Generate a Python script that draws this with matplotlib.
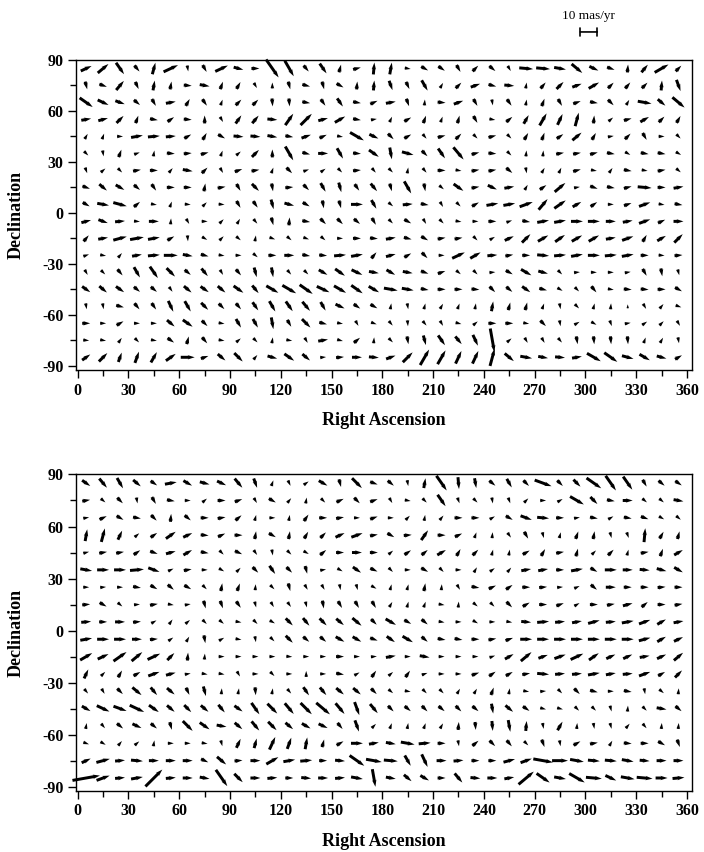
import numpy as np
import matplotlib
matplotlib.use("Agg")
import matplotlib.pyplot as plt

plt.rcParams['font.family'] = ['Liberation Serif', 'DejaVu Serif']
plt.rcParams['axes.unicode_minus'] = False

# grid centres (deg)
ra_centres = [5, 15, 25, 35, 45, 55, 65, 75, 85, 95, 105, 115, 125, 135, 145, 155, 165, 175,
              185, 195, 205, 215, 225, 235, 245, 255, 265, 275, 285, 295, 305, 315, 325, 335, 345, 355]
dec_centres = [85, 75, 65, 55, 45, 35, 25, 15, 5, -5, -15, -25, -35, -45, -55, -65, -75, -85]

# position angle on the page (deg, ccw from +RA) and size (mas/yr), rows from dec 85 down
top_angle = [
    [25, 40, -55, -50, 75, 25, -80, -60, 25, -15, 0, -55, -60, -50, -55, 75, 15, 85,
     80, -10, -30, -35, -60, 45, -40, -60, -5, -5, -10, -40, -25, -20, 85, 50, 30, 45],
    [-75, -20, 50, -65, 80, 80, -5, -10, 70, 60, -60, 90, -75, -15, -75, -30, 85, 85,
     -70, -65, -60, 60, 45, 20, -15, -5, 80, 50, 45, 20, 30, 45, 50, 45, 85, -70],
    [-35, -25, -20, -40, -60, 10, 60, -55, 70, 45, 45, -85, -85, -10, -55, -55, -10, 25,
     10, -70, 85, -5, 20, -60, -80, -55, 80, 70, -60, 20, -10, -45, 60, -10, -40, -40],
    [10, 15, 45, 70, -10, 35, -5, 90, -60, 55, 50, -5, 55, 45, 15, 30, -10, 10,
     65, 30, 70, 70, 75, -60, -10, 40, 60, 60, 65, 75, 85, 40, 15, 30, 45, 60],
    [60, 70, 0, 10, 5, 5, 30, 60, -30, -5, -5, -10, -10, 20, 25, -10, -30, -25,
     -45, 30, -50, 15, 45, -45, 15, -45, 60, 70, 35, 40, 60, 10, 45, -60, 0, -45],
    [-45, -80, 70, 20, 80, -5, 5, 15, 70, 40, 45, 90, -60, -15, 0, -60, -5, -35,
     -80, -15, -45, -55, -50, 15, -5, -45, 85, 85, 10, 10, 15, -10, -30, -10, -10, -30],
    [-70, 40, -45, 10, 0, 50, -10, 45, -60, 20, 10, 70, -45, 20, 35, -45, 5, -50,
     -45, 80, -50, 0, -10, 10, 10, -40, -80, 60, 65, 15, -10, 55, -10, -10, 10, -40],
    [-20, -40, -30, -40, -55, 0, 0, 80, 10, -60, -45, -80, 5, -45, -60, -75, -55, -50,
     -75, -60, -80, -40, -35, 10, -25, 10, 60, 35, 40, 10, -20, -10, 15, -5, 0, 10],
    [-30, -10, -15, 40, -10, 70, -5, 45, -5, -60, -55, -75, -15, -30, -80, -75, 0, -60,
     -40, 5, -10, -60, -45, 30, 10, 10, 20, 50, 35, 30, 35, 0, 20, 20, -10, -10],
    [15, -20, 5, -5, 0, 85, -60, 0, 45, 60, -50, -75, 85, -10, -45, -45, -40, -60,
     -45, -30, -60, -45, -10, 0, 0, 20, -10, 10, 10, 0, 0, 0, 10, 20, 25, 0],
    [50, 10, 15, 10, 10, 30, -85, -30, 45, -40, 80, -20, -40, -20, -40, 0, 0, -5,
     10, -15, -30, 10, 10, -45, 30, 25, 45, 30, 35, 30, 30, 10, 20, 60, 30, 45],
    [20, -10, 50, 10, 5, 0, -10, -15, -10, 0, -40, 0, 0, -10, -5, 5, 10, 50,
     15, 30, -45, 0, 25, 30, 5, 10, 0, -5, 5, 10, 0, 5, 10, 0, -5, 5],
    [-60, -45, -50, -60, -55, -45, -40, -50, -60, -50, -75, -80, -50, -45, -30, -35, -25, -10,
     -30, -10, -20, 20, -40, -45, 5, -30, -30, -15, -45, 5, 0, 0, 10, -60, -80, -75],
    [-35, -40, -35, -40, -40, -55, -40, -35, -40, -35, -50, -30, -30, -35, -25, -30, -35, -30,
     -10, -10, -10, 0, 0, -5, -45, -40, -35, -15, -30, -45, -50, -10, -5, -5, 0, -30],
    [-80, -80, -15, -50, -55, -65, -60, -45, -45, -50, -55, -60, -55, -50, -60, -25, -35, -30,
     80, -80, 75, 60, 70, 80, 80, 75, 75, 70, -80, -45, 75, 85, 90, -60, 50, -20],
    [0, 0, 30, 0, 0, -40, -35, -45, -10, -60, -60, -80, -60, -45, -15, -10, -60, -20,
     -50, -85, -50, -60, -15, 40, 0, 0, -10, -45, -80, 30, -30, -70, 10, 35, 45, -60],
    [-5, -10, 55, -45, -10, -35, 75, -50, -10, 40, -45, 80, -10, -60, 10, -15, 40, 85,
     -45, -80, -75, -55, -50, -65, -80, 40, -60, -60, -50, -80, -85, -85, -85, 70, 60, -80],
    [35, 45, 70, 70, 60, 35, 0, 20, -40, -45, 50, -15, -35, -40, 5, 5, 0, -5,
     20, 45, 60, 60, 65, 65, 75, -40, -10, -10, -5, 10, -30, -35, -15, -30, -15, 30],
]
top_length = [
    [6, 7, 7, 4, 6, 8, 3, 4, 7, 5, 4, 11, 9, 4, 6, 4, 4, 6, 6, 3, 4, 4, 4, 4, 4, 3, 7, 7, 6, 7, 5, 4, 4, 5, 8, 4],
    [4, 4, 6, 4, 5, 4, 4, 5, 4, 4, 3, 3, 4, 4, 4, 4, 4, 5, 5, 4, 6, 3, 4, 5, 4, 5, 3, 4, 5, 5, 6, 4, 4, 4, 5, 6],
    [8, 6, 5, 4, 4, 5, 4, 4, 3, 4, 4, 4, 4, 4, 4, 5, 4, 4, 5, 4, 3, 4, 5, 4, 3, 4, 3, 4, 4, 4, 4, 4, 3, 7, 5, 8],
    [5, 5, 5, 4, 4, 4, 4, 4, 3, 5, 5, 5, 7, 8, 5, 6, 4, 3, 3, 4, 4, 3, 4, 4, 3, 4, 5, 7, 6, 7, 4, 3, 4, 5, 4, 4],
    [3, 3, 3, 6, 6, 5, 4, 4, 4, 5, 5, 5, 4, 5, 4, 3, 8, 5, 4, 4, 3, 4, 4, 3, 4, 3, 4, 4, 4, 6, 4, 3, 4, 4, 3, 3],
    [3, 3, 4, 3, 3, 4, 4, 4, 3, 3, 5, 4, 8, 4, 5, 6, 4, 6, 6, 6, 4, 6, 8, 4, 4, 3, 3, 3, 4, 4, 4, 4, 3, 4, 4, 3],
    [3, 3, 3, 4, 4, 3, 5, 4, 3, 4, 4, 3, 4, 3, 3, 3, 4, 3, 3, 3, 3, 4, 3, 4, 4, 4, 3, 3, 3, 4, 3, 3, 4, 3, 4, 3],
    [4, 5, 5, 4, 4, 4, 4, 4, 4, 4, 5, 4, 4, 4, 5, 5, 4, 5, 4, 7, 4, 3, 6, 4, 5, 5, 3, 4, 7, 3, 4, 4, 4, 7, 4, 5],
    [4, 6, 7, 4, 3, 3, 3, 3, 3, 4, 4, 5, 5, 4, 4, 4, 6, 5, 3, 5, 4, 3, 3, 4, 6, 6, 7, 7, 7, 5, 4, 3, 4, 6, 3, 4],
    [5, 5, 5, 3, 5, 3, 3, 3, 3, 3, 3, 4, 4, 4, 4, 4, 4, 4, 3, 4, 3, 3, 3, 3, 4, 3, 4, 6, 6, 6, 6, 5, 5, 6, 4, 5],
    [4, 5, 7, 7, 6, 4, 3, 3, 3, 3, 3, 3, 3, 3, 3, 3, 4, 4, 5, 4, 4, 4, 4, 3, 3, 5, 6, 6, 6, 6, 6, 5, 6, 4, 5, 6],
    [3, 3, 3, 5, 6, 7, 5, 4, 3, 3, 3, 4, 5, 4, 4, 6, 6, 4, 5, 4, 4, 3, 7, 6, 5, 4, 4, 6, 6, 6, 6, 6, 6, 4, 3, 4],
    [3, 3, 4, 6, 7, 6, 4, 5, 3, 4, 5, 5, 3, 3, 5, 6, 6, 5, 5, 5, 4, 4, 3, 3, 3, 4, 6, 5, 3, 3, 3, 3, 3, 4, 4, 3],
    [5, 5, 5, 4, 4, 3, 5, 5, 5, 6, 5, 7, 8, 8, 7, 7, 7, 6, 7, 6, 4, 4, 4, 4, 4, 4, 5, 4, 3, 3, 4, 3, 4, 4, 4, 4],
    [3, 3, 4, 4, 4, 6, 6, 5, 4, 4, 5, 6, 6, 6, 5, 5, 4, 4, 3, 3, 3, 3, 3, 3, 5, 4, 4, 3, 3, 3, 3, 3, 2, 3, 3, 3],
    [4, 3, 4, 3, 3, 5, 6, 4, 3, 5, 5, 6, 4, 6, 4, 3, 3, 3, 3, 3, 3, 3, 3, 3, 4, 4, 3, 4, 3, 3, 3, 3, 3, 3, 3, 3],
    [3, 3, 3, 3, 3, 4, 4, 4, 3, 3, 3, 3, 3, 3, 5, 3, 4, 3, 3, 4, 5, 6, 5, 6, 12, 3, 3, 3, 3, 4, 4, 4, 4, 3, 3, 3],
    [5, 6, 5, 6, 6, 6, 7, 4, 5, 6, 3, 5, 6, 5, 3, 4, 5, 5, 5, 7, 9, 8, 7, 7, 9, 6, 6, 5, 5, 5, 8, 8, 6, 6, 5, 4],
]

bottom_angle = [
    [-35, -50, -60, -40, -35, 10, -30, -15, -25, -50, -70, 70, -65, 35, -30, -75, -45, -20,
     -40, -80, 80, -55, -85, -80, -40, -60, -45, -20, -45, -45, -35, -55, -55, -60, -40, -35],
    [10, -40, -45, -80, -60, -10, 0, 40, 0, 20, -60, -30, 50, 80, -45, 25, -45, 20,
     -60, -10, -45, -55, -70, -45, -80, -70, 45, 0, 30, -30, -45, -10, 0, -40, -40, -10],
    [10, 25, -30, -10, -45, 85, -40, 0, 10, 40, 75, 0, 80, 55, 0, 10, 0, 20,
     0, 45, 80, 50, 0, 0, 30, -30, -20, -5, 0, 10, -10, 30, -10, -20, -30, -40],
    [80, 75, 65, 40, 35, 35, 25, -5, 25, 0, 80, -30, 80, 60, 45, 25, 20, 10,
     -30, 5, 55, 0, 25, 70, 85, -55, -60, -75, 75, 70, 80, -75, -70, 85, 60, 75],
    [15, 10, 10, 35, -20, 15, 30, -10, -45, -25, -55, -80, -45, -30, 40, 0, 0, 0,
     40, 35, 40, 30, 60, 45, 75, 80, 30, 60, 10, 75, 45, 45, 75, 10, 70, 30],
    [-10, 0, 0, 5, -20, 25, 10, 0, -30, 45, -45, -55, -45, -75, 10, -30, -35, -25,
     -45, 0, -30, -45, 0, 60, 35, 50, 10, 10, 0, 10, -30, 0, 0, -5, -15, -30],
    [0, 5, 0, -10, -30, -40, -30, -45, 80, 70, 85, -45, -75, -60, -60, -80, -75, -30,
     75, 75, 80, 85, -60, -10, 25, 35, 0, 5, 5, 25, -40, 0, 0, 0, 5, 0],
    [5, -30, -40, 5, 10, -10, 10, -75, -70, -55, -75, -60, -55, -75, -80, -60, -60, -60,
     60, 75, 70, -10, 85, -40, -45, -45, 30, 0, 20, 30, 0, 10, 15, 40, 0, 10],
    [5, 0, 0, 5, 30, 55, 40, -45, -40, -10, -45, -30, -45, -50, -45, -40, -40, -45,
     -30, -30, -40, -10, 0, -30, 0, -10, -5, 5, 5, 10, 15, 5, 10, 20, 30, 10],
    [10, 0, 0, 0, 5, 35, 60, -80, 30, -10, -80, -45, -45, -40, -40, -30, -30, -20,
     -35, -30, -40, -10, -10, 0, 10, 20, 0, 0, 0, 0, 0, 0, 0, 15, 30, 25],
    [30, 25, 35, 40, 25, 45, 85, 85, 0, 0, 0, 0, -5, 0, 0, 0, 0, 5,
     10, 0, -10, 0, 0, 0, 20, 30, 40, 20, 20, 25, 35, 25, 25, 10, 25, 40],
    [65, 45, 60, 30, 20, 15, 10, -10, -10, -60, 0, -45, 0, 90, 0, -10, 30, 55,
     40, 55, 20, 0, 0, 20, 35, 30, 10, -5, 5, 5, 10, 10, 5, 20, 30, 45],
    [-50, -60, -45, -40, -50, -40, -65, -75, 85, 80, -85, 80, -50, -55, -50, -40, -40, -45,
     -40, -10, -45, -45, 60, 60, 70, 80, -10, 5, -45, -45, -15, 0, -10, -80, -40, 85],
    [-30, -25, -20, -25, -35, -40, -45, -40, -50, -35, -55, -45, -50, -45, -40, -50, -70, -50,
     -45, -40, -45, -40, -45, -40, -80, -40, -35, -15, -15, -45, -45, -75, 85, -45, -10, -40],
    [80, -50, -40, -25, -40, -75, -45, -35, -10, -40, -50, -45, -40, -30, -25, -50, -70, 45,
     70, 80, 70, 60, 85, -85, -85, -80, 85, -80, 60, 85, -80, -75, 50, -50, 85, 85],
    [-20, -30, 50, 40, 80, 0, 0, -10, -75, 65, 75, 65, 70, 80, 75, 30, 0, 10,
     -10, -10, 5, 0, -80, 40, -45, -50, -45, -70, -80, 30, 10, 60, -5, 0, -30, -70],
    [25, 15, 5, -5, 0, 0, 0, -25, -40, 5, 0, 30, 10, 5, 0, -5, -35, -10,
     -5, -60, -65, 0, 5, 0, 0, 15, 20, -10, 0, -10, -5, -5, -10, -5, 0, 0],
    [10, 20, 5, 10, 45, 5, 0, -10, -55, -45, 0, 5, 0, -5, 0, 5, -10, -80,
     -10, -40, -30, 0, -50, -5, 0, 10, 40, -35, -10, -30, -5, -25, -10, -5, 0, 5],
]
bottom_length = [
    [5, 6, 6, 5, 4, 6, 5, 5, 5, 6, 5, 3, 3, 3, 5, 4, 7, 4, 4, 3, 5, 9, 6, 5, 4, 5, 4, 9, 4, 5, 9, 9, 8, 4, 4, 4],
    [4, 3, 4, 3, 4, 4, 3, 3, 4, 4, 3, 4, 3, 3, 3, 4, 4, 4, 3, 3, 3, 7, 3, 3, 3, 3, 3, 3, 3, 8, 5, 4, 5, 3, 3, 5],
    [3, 4, 4, 4, 4, 4, 4, 4, 4, 4, 3, 3, 3, 4, 4, 4, 3, 4, 3, 3, 3, 3, 4, 4, 3, 4, 6, 6, 4, 3, 4, 3, 4, 4, 3, 3],
    [6, 7, 5, 3, 4, 6, 5, 4, 4, 4, 4, 4, 4, 4, 4, 5, 6, 4, 4, 4, 6, 4, 4, 3, 3, 3, 4, 3, 3, 4, 4, 3, 3, 7, 4, 4],
    [3, 4, 4, 4, 4, 5, 5, 4, 3, 4, 3, 3, 3, 3, 4, 4, 5, 4, 3, 4, 4, 5, 4, 4, 3, 3, 4, 4, 4, 4, 3, 4, 3, 4, 4, 5],
    [6, 6, 6, 7, 6, 3, 4, 3, 3, 3, 4, 5, 4, 4, 3, 3, 5, 4, 3, 3, 4, 3, 3, 3, 3, 3, 5, 5, 4, 6, 4, 6, 5, 5, 5, 5],
    [3, 3, 3, 4, 4, 4, 4, 3, 4, 4, 3, 3, 4, 3, 3, 3, 3, 3, 3, 3, 4, 3, 3, 4, 4, 4, 4, 4, 3, 3, 4, 5, 4, 4, 4, 4],
    [4, 4, 3, 3, 4, 3, 3, 4, 4, 4, 3, 3, 3, 3, 4, 4, 4, 4, 3, 3, 3, 3, 3, 3, 3, 4, 4, 4, 4, 3, 4, 4, 5, 4, 4, 4],
    [5, 4, 5, 4, 3, 3, 3, 3, 3, 3, 3, 3, 5, 5, 5, 5, 6, 4, 6, 4, 4, 3, 3, 3, 3, 3, 5, 6, 5, 5, 6, 5, 6, 6, 5, 5],
    [6, 6, 6, 5, 4, 3, 3, 4, 3, 3, 3, 3, 5, 4, 4, 5, 5, 4, 5, 6, 4, 4, 4, 4, 4, 4, 6, 6, 6, 6, 6, 6, 6, 6, 5, 5],
    [7, 6, 8, 7, 7, 5, 4, 3, 3, 3, 3, 3, 3, 3, 3, 4, 3, 3, 5, 3, 5, 3, 3, 3, 3, 5, 7, 5, 6, 7, 6, 5, 5, 5, 5, 6],
    [5, 3, 4, 4, 6, 5, 3, 3, 3, 3, 3, 3, 3, 3, 3, 4, 3, 4, 3, 4, 3, 3, 3, 4, 4, 4, 4, 6, 5, 5, 6, 5, 5, 6, 4, 5],
    [3, 3, 4, 6, 5, 5, 4, 5, 3, 3, 4, 3, 3, 5, 5, 5, 5, 4, 3, 3, 3, 3, 3, 3, 4, 3, 3, 3, 3, 4, 4, 3, 4, 3, 3, 3],
    [5, 7, 7, 8, 6, 5, 5, 5, 5, 5, 7, 7, 7, 8, 9, 7, 7, 6, 4, 4, 4, 4, 4, 4, 5, 5, 4, 3, 3, 3, 3, 3, 3, 3, 5, 4],
    [3, 3, 4, 5, 4, 4, 7, 6, 5, 5, 6, 6, 5, 5, 5, 4, 6, 3, 3, 3, 3, 3, 4, 4, 5, 6, 5, 3, 5, 3, 3, 3, 3, 3, 3, 3],
    [3, 3, 3, 3, 3, 3, 3, 3, 3, 5, 5, 7, 6, 6, 4, 4, 6, 5, 5, 7, 6, 4, 3, 4, 4, 4, 3, 4, 3, 4, 4, 3, 4, 4, 4, 4],
    [5, 7, 5, 6, 5, 5, 5, 4, 6, 4, 5, 7, 6, 6, 4, 5, 9, 8, 7, 6, 7, 5, 5, 4, 4, 6, 6, 10, 8, 7, 6, 6, 6, 5, 5, 5],
    [14, 7, 5, 6, 12, 5, 5, 5, 10, 6, 5, 5, 4, 5, 5, 5, 6, 9, 5, 5, 5, 4, 6, 5, 5, 5, 10, 8, 6, 9, 8, 6, 7, 8, 6, 6],
]

scale_len = 10        # mas/yr
scale_ra = 302        # centre of the key bar
scale_dec = 106.5

fig = plt.figure(figsize=(7.04, 8.52), dpi=100)
ax_top = fig.add_axes([0.108, 0.5657, 0.875, 0.3639])
ax_bot = fig.add_axes([0.108, 0.0716, 0.875, 0.3715])

X, Y = np.meshgrid(ra_centres, dec_centres)

for ax, ang, ln in [(ax_top, top_angle, top_length), (ax_bot, bottom_angle, bottom_length)]:
    a = np.radians(np.array(ang, dtype=float))
    L = np.array(ln, dtype=float)
    U = L * np.cos(a)
    V = L * np.sin(a)
    ax.quiver(X, Y, U, V, angles='uv', scale_units='x', scale=0.85, pivot='middle',
              color='black', width=0.0048, headwidth=1.5, headlength=2.4,
              headaxislength=2.1, minlength=0.5, clip_on=False)
    ax.set_xlim(-1, 363)
    ax.set_ylim(-92.5, 90)
    ax.set_xticks(np.arange(0, 361, 30))
    ax.set_xticks(np.arange(15, 360, 30), minor=True)
    ax.set_yticks(np.arange(-90, 91, 30))
    ax.set_yticks(np.arange(-75, 90, 30), minor=True)
    ax.tick_params(which='major', length=6, width=1, direction='out', labelsize=11.5, pad=3)
    ax.tick_params(which='minor', length=4, width=1, direction='out')
    for lab in ax.get_xticklabels() + ax.get_yticklabels():
        lab.set_fontweight('bold')
    for sp in ax.spines.values():
        sp.set_linewidth(1.0)
    ax.set_xlabel('Right Ascension', fontsize=13, fontweight='bold', labelpad=10)
    ax.set_ylabel('Declination', fontsize=13, fontweight='bold')
    ax.yaxis.set_label_coords(-0.083, 0.5)

# scale key
ax_top.annotate('', xy=(scale_ra + scale_len / 2, scale_dec), xytext=(scale_ra - scale_len / 2, scale_dec),
                xycoords='data', annotation_clip=False,
                arrowprops=dict(arrowstyle='|-|, widthA=0.25, widthB=0.25', lw=1.2,
                                shrinkA=0, shrinkB=0, mutation_scale=12))
ax_top.text(scale_ra, scale_dec + 9.5, '10 mas/yr', ha='center', va='center', fontsize=9.5,
            clip_on=False)

fig.savefig('out.png', dpi=100)
